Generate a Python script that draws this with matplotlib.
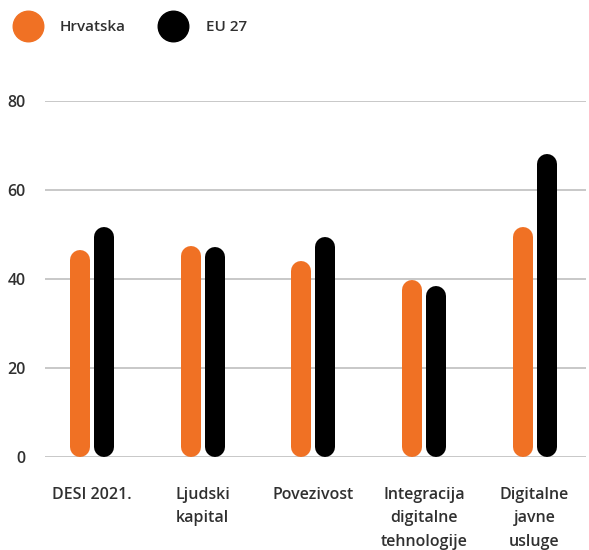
import numpy as np
import matplotlib.pyplot as plt
from matplotlib.lines import Line2D

plt.rcParams['font.family'] = ['Open Sans', 'DejaVu Sans']

# data
categories = ['DESI 2021.', 'Ljudski\nkapital', 'Povezivost',
              'Integracija\ndigitalne\ntehnologije', 'Digitalne\njavne\nusluge']
hrvatska = [46.5, 47.3, 44.1, 39.7, 51.7]
eu27 = [51.7, 47.2, 49.4, 38.3, 68.1]
series_names = ['Hrvatska', 'EU 27']
yticks = [0, 20, 40, 60, 80]

orange = '#F07124'
black = '#000000'
text_col = '#303030'

W, H, DPI = 589, 550, 100
fig = plt.figure(figsize=(W / DPI, H / DPI), dpi=DPI)
ax_left, ax_right = 45, 586
ax_top, ax_bottom = 101, 456.7
ax = fig.add_axes([ax_left / W, 1 - ax_bottom / H,
                   (ax_right - ax_left) / W, (ax_bottom - ax_top) / H])

x = np.arange(len(categories))
ax.set_xlim(-0.425, 4.465)
ax.set_ylim(0, 80)

# pill bars: thick lines with round caps, trimmed so the cap ends at the value
bar_px = 20
offset = 0.1085
px_per_unit = (ax_bottom - ax_top) / 80
r = (bar_px / 2) / px_per_unit
lw = bar_px * 72 / DPI
for vals, dx, col in [(hrvatska, -offset, orange), (eu27, offset, black)]:
    for xi, v in zip(x, vals):
        ax.plot([xi + dx, xi + dx], [r, v - r], color=col, lw=lw,
                solid_capstyle='round', clip_on=False, zorder=3)

ax.set_yticks(yticks)
ax.set_xticks(x)
ax.set_xticklabels(categories, linespacing=1.6)
ax.grid(axis='y', color='#c4c4c4', lw=1.3, zorder=0)
ax.tick_params(axis='y', length=0, pad=14, labelsize=11.5, labelcolor=text_col)
ax.tick_params(axis='x', length=0, pad=22, labelsize=11.5, labelcolor=text_col)
for lab in ax.get_xticklabels() + ax.get_yticklabels():
    lab.set_fontweight('semibold')
for s in ax.spines.values():
    s.set_visible(False)

handles = [Line2D([], [], ls='none', marker='o', markersize=22, color=c)
           for c in (orange, black)]
fig.legend(handles, series_names, loc='center left',
           bbox_to_anchor=(12.7 / W, 1 - 27 / H), ncol=2, frameon=False,
           borderpad=0, borderaxespad=0, handlelength=2, handletextpad=1.1,
           columnspacing=2.1, prop={'size': 11, 'weight': 'semibold'},
           labelcolor=text_col)

fig.savefig('out.png', dpi=DPI)
